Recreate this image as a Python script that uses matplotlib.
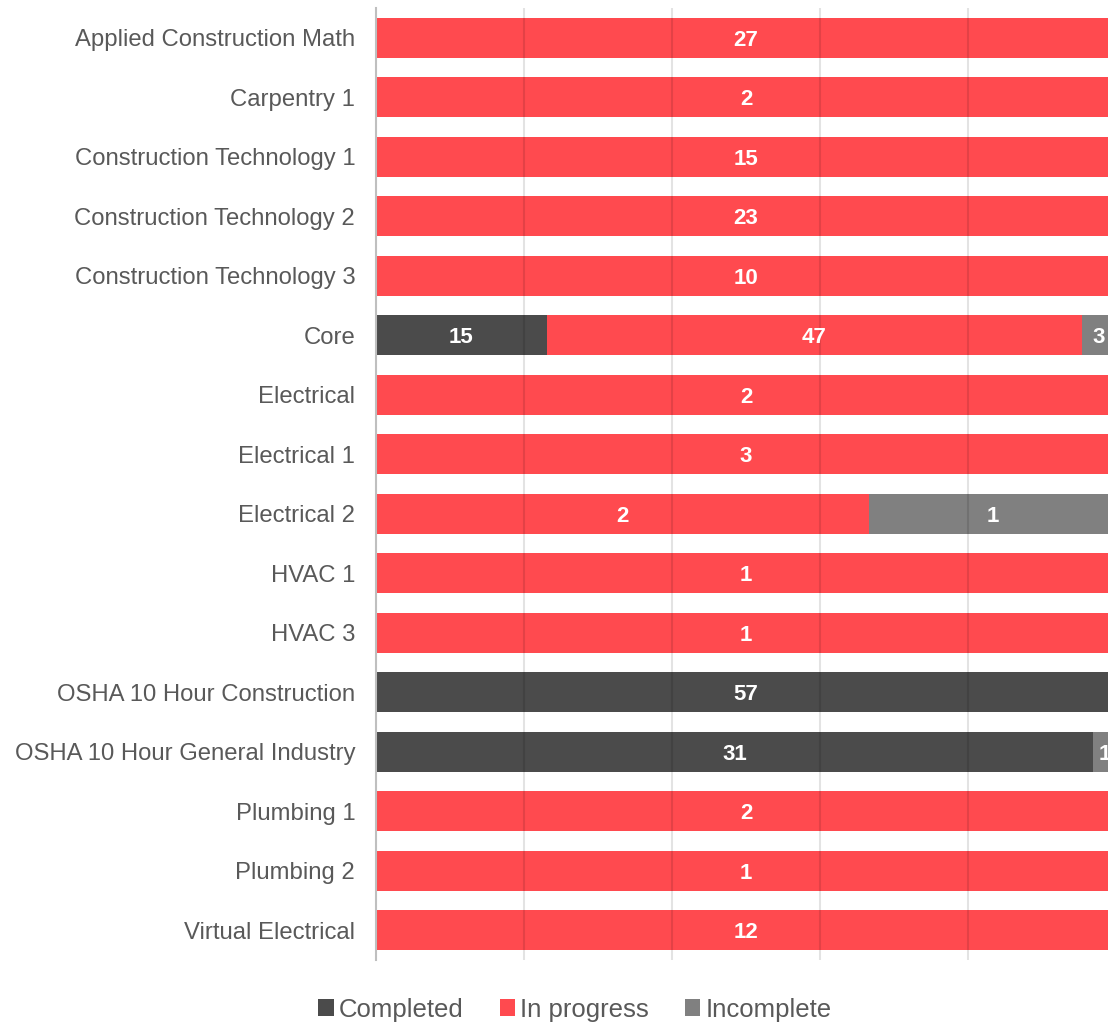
import numpy as np
import matplotlib.pyplot as plt

plt.rcParams['font.family'] = ['Liberation Sans', 'DejaVu Sans']

courses = ['Applied Construction Math', 'Carpentry 1', 'Construction Technology 1',
           'Construction Technology 2', 'Construction Technology 3', 'Core',
           'Electrical', 'Electrical 1', 'Electrical 2', 'HVAC 1', 'HVAC 3',
           'OSHA 10 Hour Construction', 'OSHA 10 Hour General Industry',
           'Plumbing 1', 'Plumbing 2', 'Virtual Electrical']
completed = [0, 0, 0, 0, 0, 15, 0, 0, 0, 0, 0, 57, 31, 0, 0, 0]
in_progress = [27, 2, 15, 23, 10, 47, 2, 3, 2, 1, 1, 0, 0, 2, 1, 12]
incomplete = [0, 0, 0, 0, 0, 3, 0, 0, 1, 0, 0, 0, 1, 0, 0, 0]

series = [('Completed', completed, '#4b4b4b'),
          ('In progress', in_progress, '#ff4a4f'),
          ('Incomplete', incomplete, '#808080')]

totals = np.array(completed) + np.array(in_progress) + np.array(incomplete)
y = np.arange(len(courses))

fig = plt.figure(figsize=(11.08, 10.26), dpi=100)
ax = fig.add_axes([376 / 1108, 1 - 960 / 1026, 740 / 1108, 952 / 1026])

left = np.zeros(len(courses))
for name, vals, color in series:
    vals = np.array(vals)
    frac = vals / totals
    ax.barh(y, frac, left=left, height=0.67, color=color, label=name, zorder=2)
    for i in range(len(courses)):
        if vals[i] > 0:
            ax.text(left[i] + frac[i] / 2, y[i], str(vals[i]), ha='center',
                    va='center_baseline', color='white', fontsize=16,
                    fontweight='bold', zorder=4)
    left += frac

ax.set_xlim(0, 1)
ax.set_ylim(len(courses) - 0.5, -0.5)
ax.set_yticks(y)
ax.set_yticklabels(courses, fontsize=17.2, color='#595959')
ax.set_xticks(np.linspace(0, 1, 6))
ax.set_xticklabels([])
ax.tick_params(axis='y', length=0, pad=15)
ax.tick_params(axis='x', length=0)
ax.grid(axis='x', color='black', linewidth=1.5, alpha=0.11, zorder=3)
ax.set_axisbelow(False)
for s in ['top', 'right', 'bottom']:
    ax.spines[s].set_visible(False)
ax.spines['left'].set_color('#bfbfbf')
ax.spines['left'].set_linewidth(1.5)
ax.spines['left'].set_zorder(5)

fig.legend(loc='center', bbox_to_anchor=(0.519, 0.016), ncol=3, frameon=False,
           fontsize=18.5, handlelength=0.6, handleheight=0.6, handletextpad=0.2,
           columnspacing=1.4, labelcolor='#595959')

fig.savefig('out.png', dpi=100)
